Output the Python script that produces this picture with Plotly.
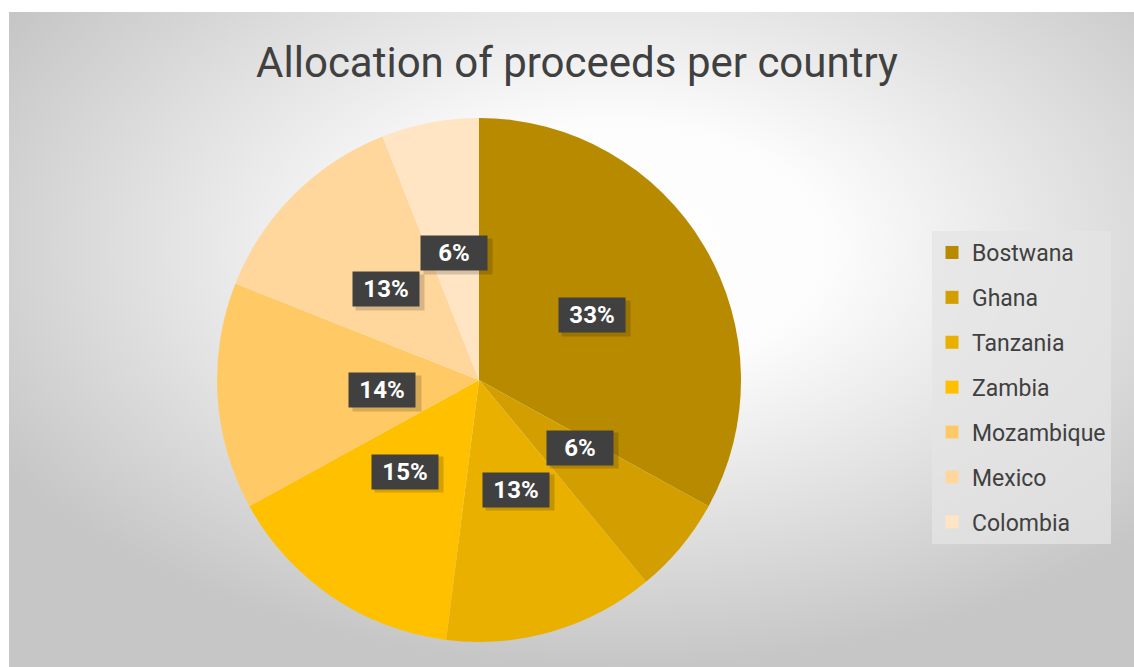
import base64
import math
import plotly.graph_objects as go

# ---- data ----
countries = ["Bostwana", "Ghana", "Tanzania", "Zambia", "Mozambique", "Mexico", "Colombia"]
shares = [33, 6, 13, 15, 14, 13, 6]
colors = ["#B88A00", "#D39E00", "#E9B000", "#FFC000", "#FFCA66", "#FFD79C", "#FFE5C4"]
title_text = "Allocation of proceeds per country"

W, H = 1134, 667

# pie geometry (paper fractions)
pie_cx_px, pie_cy_px, pie_r_px = 479, 380, 262
dom_x = [(pie_cx_px - pie_r_px) / W, (pie_cx_px + pie_r_px) / W]
dom_y = [1 - (pie_cy_px + pie_r_px) / H, 1 - (pie_cy_px - pie_r_px) / H]

fig = go.Figure()

# background radial gradient
svg = f'''<svg xmlns="http://www.w3.org/2000/svg" width="{W}" height="{H}" viewBox="0 0 100 100" preserveAspectRatio="none">
<defs><radialGradient id="g" cx="0.54" cy="0.36" r="0.64" fx="0.54" fy="0.36">
<stop offset="0" stop-color="#ffffff"/><stop offset="0.3" stop-color="#fcfcfc"/>
<stop offset="1" stop-color="#c6c6c6"/></radialGradient></defs>
<rect x="0" y="0" width="100" height="100" fill="url(#g)"/></svg>'''
src = "data:image/svg+xml;base64," + base64.b64encode(svg.encode()).decode()

fig.add_trace(go.Pie(
    labels=countries, values=shares, sort=False, direction="clockwise", rotation=0,
    marker=dict(colors=colors, line=dict(width=0)),
    textinfo="none", hoverinfo="label+percent", showlegend=False,
    domain=dict(x=dom_x, y=dom_y),
))

# legend via dummy traces
for name, col in zip(countries, colors):
    fig.add_trace(go.Scatter(
        x=[None], y=[None], mode="markers", name=name, legendgroup=name,
        marker=dict(symbol="square", size=13, color=col),
    ))

# percentage labels in dark boxes
total = sum(shares)
cum = 0
annotations = []
shadow = []
pcx = (dom_x[0] + dom_x[1]) / 2
pcy = (dom_y[0] + dom_y[1]) / 2
for v in shares:
    mid = (cum + v / 2) / total * 2 * math.pi
    cum += v
    rr = pie_r_px * 0.5
    ax = pcx + rr * math.sin(mid) / W
    ay = pcy + rr * math.cos(mid) / H
    txt = f"{round(v / total * 100)}%"
    shadow.append(dict(x=ax, y=ay, xref="paper", yref="paper", text="&nbsp;", showarrow=False,
                       font=dict(family="Roboto", size=24, color="rgba(0,0,0,0)"),
                       bgcolor="rgba(0,0,0,0.16)", width=66, height=33,
                       xshift=4, yshift=-5))
    annotations.append(dict(x=ax, y=ay, xref="paper", yref="paper", text=f"<b>{txt}</b>",
                            showarrow=False, yshift=-2,
                            font=dict(family="Roboto", size=24, color="#ffffff"),
                            bgcolor="#404040", width=64, height=32))

fig.update_layout(
    width=W, height=H,
    margin=dict(l=0, r=0, t=0, b=0),
    paper_bgcolor="#ffffff",
    plot_bgcolor="rgba(0,0,0,0)",
    xaxis=dict(visible=False), yaxis=dict(visible=False),
    images=[dict(source=src, xref="paper", yref="paper", x=9 / W, y=1 - 12 / H,
                 sizex=1 - 9 / W, sizey=1 - 12 / H, xanchor="left", yanchor="top",
                 sizing="stretch", layer="below")],
    title=dict(text=title_text, x=577 / W, y=1 - 62 / H, xanchor="center", yanchor="middle",
               font=dict(family="Roboto", size=42, color="#404040")),
    legend=dict(x=932 / W, y=1 - 231 / H, xanchor="left", yanchor="top",
                bgcolor="rgba(228,228,228,0.75)", font=dict(family="Roboto", size=23, color="#404040"),
                tracegroupgap=12, traceorder="grouped", itemclick=False),
    annotations=shadow + annotations,
    showlegend=True,
)

fig.write_html("out.html", config={"displayModeBar": False},
               post_script="document.body.style.margin='0';document.body.style.overflow='hidden';")
